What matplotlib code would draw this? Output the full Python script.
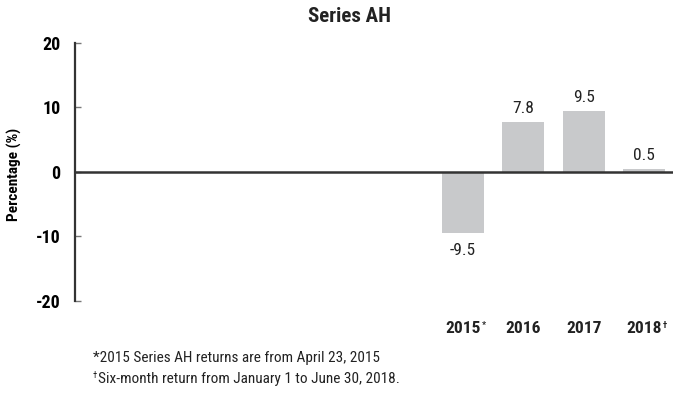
import matplotlib
matplotlib.use("Agg")
import matplotlib.pyplot as plt
from matplotlib import font_manager as fm

fonts = fm.fontManager.ttflist
names = {f.name for f in fonts}
STRETCH = 'normal'
FAM = None
for cand in ['Roboto Condensed', 'Liberation Sans Narrow', 'Open Sans Condensed', 'Noto Sans Condensed']:
    if cand in names:
        FAM = [cand, 'DejaVu Sans']
        break
if FAM is None:
    for fam in ['DejaVu Sans', 'Noto Sans', 'Open Sans', 'Roboto']:
        if any(f.name == fam and f.stretch in ('condensed', 'semi-condensed', 'extra-condensed', 75, 87.5)
               for f in fonts):
            FAM = [fam, 'DejaVu Sans']
            STRETCH = 'condensed'
            break
if FAM is None:
    FAM = ['Liberation Sans', 'DejaVu Sans']
plt.rcParams['font.family'] = FAM
plt.rcParams['font.stretch'] = STRETCH

title = "Series AH"
categories = ["2015", "2016", "2017", "2018"]
marks = ["*", "", "", "\u2020"]
values = [-9.5, 7.8, 9.5, 0.5]
yticks = [-20, -10, 0, 10, 20]
ylabel = "Percentage (%)"
footnote_marks = ["", "\u2020"]
footnotes = ["*2015 Series AH returns are from April 23, 2015",
             "Six-month return from January 1 to June 30, 2018."]

fig = plt.figure(figsize=(6.73, 4.0), dpi=100)
ax = fig.add_axes([75/673, 1-301/400, (673-75)/673, (301-43)/400])

x = list(range(len(categories)))
ax.bar(x, values, width=0.7, color="#c8c9cb", zorder=2)
ax.axhline(0, color="#333333", lw=1.8, zorder=3)
ax.set_ylim(-20, 20)
ax.set_xlim(-6.43, 3.48)
ax.set_yticks(yticks)
ax.set_yticklabels([str(t) for t in yticks], fontweight='bold', fontsize=13)
ax.tick_params(axis='y', direction='in', length=4, width=1, color="#777777", pad=10.5)
ax.set_xticks([])
for s in ['top', 'right', 'bottom']:
    ax.spines[s].set_visible(False)
ax.spines['left'].set_color("#333333")
ax.spines['left'].set_linewidth(1.6)

for xi, v in zip(x, values):
    off = 0.9 if v >= 0 else -1.5
    ax.text(xi, v + off, f"{v:.1f}", ha='center', va='bottom' if v >= 0 else 'top',
            fontsize=12.5, color="#222222")

for xi, c, m in zip(x, categories, marks):
    t = ax.text(xi, -24.2, c, ha='center', va='center', fontsize=12.5, fontweight='bold',
                color="#222222", clip_on=False)
    if m:
        ax.annotate(m, xy=(1.0, 1.0), xycoords=t, xytext=(0.5, 0), textcoords='offset points',
                    ha='left', va='top', fontsize=6.5, fontweight='bold', color="#222222",
                    annotation_clip=False)

ax.set_ylabel(ylabel, fontweight='bold', fontsize=11, labelpad=13)
ax.yaxis.set_label_coords(-53/598, 0.49)
fig.text(350/673, 1-16/400, title, ha='center', va='center', fontweight='bold', fontsize=15,
         color="#222222")

ys = [358, 379]
for fm_, txt, yy in zip(footnote_marks, footnotes, ys):
    if fm_:
        mk = fig.text(93/673, 1-(yy-4)/400, fm_, ha='left', va='center', fontsize=6.5,
                      color="#222222")
        fig.canvas.draw()
        bb = mk.get_window_extent()
        fig.text(bb.x1/fig.bbox.width + 0.5/673, 1-yy/400, txt, ha='left', va='center',
                 fontsize=11, color="#222222")
    else:
        fig.text(93/673, 1-yy/400, txt, ha='left', va='center', fontsize=11, color="#222222")

fig.savefig("out.png", dpi=100)
